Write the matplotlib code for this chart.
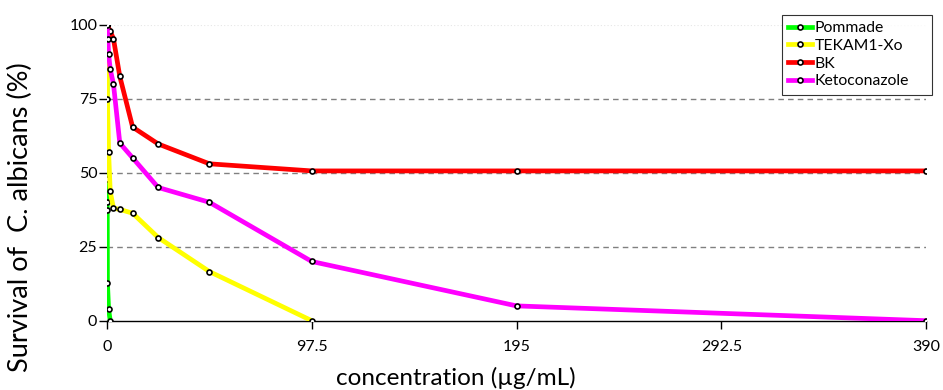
import matplotlib
matplotlib.use('Agg')
import matplotlib.pyplot as plt

# concentrations (µg/mL) and survival (%) per product
pommade_x = [0, 0.02, 0.05, 0.1, 0.19, 0.76, 1.52]
pommade_y = [100, 47.8, 40, 37.5, 12.8, 3.8, 0]

tekam_x = [0, 0.19, 0.76, 1.52, 3.05, 6.09, 12.19, 24.375, 48.75, 97.5]
tekam_y = [100, 75, 57, 43.7, 38, 37.6, 36.3, 28.1, 16.6, 0]

bk_x = [0, 1.52, 3.05, 6.09, 12.19, 24.375, 48.75, 97.5, 195, 390]
bk_y = [100, 97.8, 95.3, 82.5, 65.4, 59.7, 53, 50.6, 50.6, 50.6]

keto_x = [0, 0.38, 0.76, 1.52, 3.05, 6.09, 12.19, 24.375, 48.75, 97.5, 195, 390]
keto_y = [100, 95, 90, 85, 80, 60, 55, 45, 40, 20, 5, 0]

series = [
    ('Pommade', pommade_x, pommade_y, '#00ff00'),
    ('TEKAM1-Xo', tekam_x, tekam_y, '#ffff00'),
    ('BK', bk_x, bk_y, '#ff0000'),
    ('Ketoconazole', keto_x, keto_y, '#ff00ff'),
]

xticks = [0, 97.5, 195, 292.5, 390]
xtick_labels = ['0', '97.5', '195', '292.5', '390']
yticks = [0, 25, 50, 75, 100]

plt.rcParams['font.family'] = ['Lato', 'DejaVu Sans']

fig = plt.figure(figsize=(9.43, 3.9), dpi=100)
ax = fig.add_axes([0.1135, 0.1777, 0.8685, 0.759])

for name, xs, ys, col in series:
    ax.plot(xs, ys, color=col, linewidth=3.4, label=name, zorder=3,
            marker='o', markersize=3.6, markerfacecolor='white',
            markeredgecolor='black', markeredgewidth=1.2)

# dashed grid lines
for yv in [25, 50, 75]:
    ax.axhline(yv, color='#808080', linestyle=(0, (4, 3)), linewidth=1.0, zorder=1)
ax.axhline(100, color='#e6e6e6', linestyle=(0, (1, 2)), linewidth=0.8, zorder=1)

ax.set_xlim(0, 390)
ax.set_ylim(0, 100)
ax.set_xticks(xticks)
ax.set_xticklabels(xtick_labels)
ax.set_yticks(yticks)

for s in ['top', 'right']:
    ax.spines[s].set_visible(False)
ax.spines['left'].set_visible(False)
ax.spines['bottom'].set_linewidth(1.0)
ax.spines['bottom'].set_zorder(2)

ax.tick_params(axis='x', direction='out', length=6, width=1, labelsize=11.5, pad=8)
ax.tick_params(axis='y', direction='out', length=6, width=1, labelsize=11.5, pad=1)

ax.set_xlabel('concentration (µg/mL)', fontsize=17.5, va='center')
ax.xaxis.set_label_coords(0.426, -0.195)
ax.set_ylabel('Survival of  C. albicans (%)', fontsize=19.5)
ax.yaxis.set_label_coords(-0.09, 0.35)

leg = ax.legend(loc='upper left', bbox_to_anchor=(0.824, 0.753, 0.183, 0.28),
                mode='expand', fontsize=11.3,
                frameon=True, fancybox=False, edgecolor='black', handlelength=1.5,
                handletextpad=0.2, borderpad=0.4, labelspacing=0.24,
                borderaxespad=0.0)
leg.get_frame().set_linewidth(0.8)

fig.savefig('out.png', dpi=100)
